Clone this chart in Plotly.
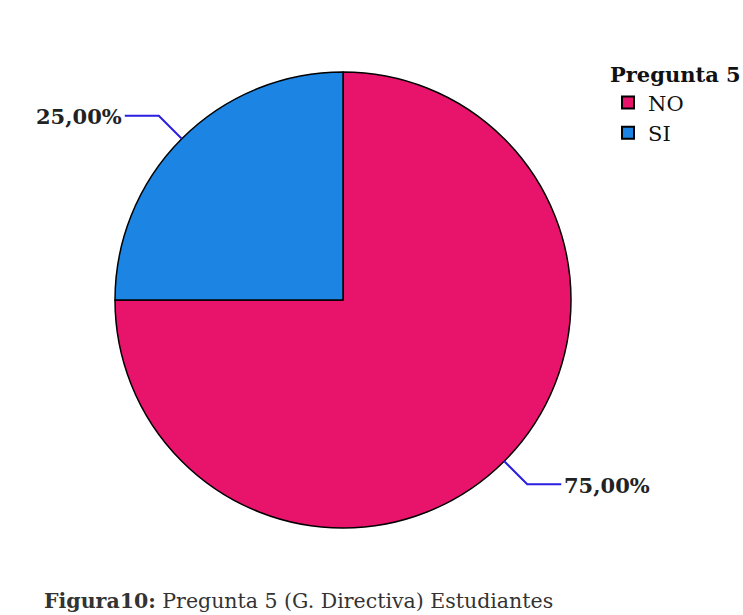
import math
import plotly.graph_objects as go

categories = ["NO", "SI"]
values = [75, 25]
colors = ["#e8146c", "#1c84e2"]
label_texts = ["75,00%", "25,00%"]

W, H = 743, 615
cx, cy, r = 343, 300, 228  # pixel layout of the pie

dom_x = [(cx - r) / W, (cx + r) / W]
dom_y = [1 - (cy + r) / H, 1 - (cy - r) / H]

FONT = "DejaVu Serif"

fig = go.Figure(go.Pie(
    labels=categories, values=values, sort=False, direction="clockwise", rotation=0,
    marker=dict(colors=colors, line=dict(color="black", width=1.5)),
    textinfo="none", hoverinfo="label+percent",
    domain=dict(x=dom_x, y=dom_y),
))

shapes = []
annotations = []
total = sum(values)
start = 0.0
for v, txt in zip(values, label_texts):
    mid = start + v / total * 360 / 2
    start += v / total * 360
    a = math.radians(mid)
    ex, ey = cx + r * math.sin(a), cy - r * math.cos(a)
    dx = 1 if math.sin(a) >= 0 else -1
    dy = 1 if -math.cos(a) >= 0 else -1
    kx, ky = ex + dx * 23, ey + dy * 23
    hx = kx + dx * 34
    path = f"M {ex/W} {1-ey/H} L {kx/W} {1-ky/H} L {hx/W} {1-ky/H}"
    shapes.append(dict(type="path", xref="paper", yref="paper", path=path,
                       line=dict(color="#2a1ee0", width=2)))
    annotations.append(dict(xref="paper", yref="paper", x=(hx + dx * 1) / W, y=1 - (ky + 1) / H,
                            text=f"<b>{txt}</b>", showarrow=False,
                            xanchor="left" if dx > 0 else "right", yanchor="middle",
                            font=dict(family=FONT, size=21, color="#222")))

annotations.append(dict(xref="paper", yref="paper", x=42 / W, y=1 - 601 / H,
                        text="<b>Figura10:</b> Pregunta 5 (G. Directiva) Estudiantes",
                        showarrow=False, xanchor="left", yanchor="middle",
                        font=dict(family=FONT, size=20.5, color="#333")))

fig.update_layout(
    width=W, height=H, margin=dict(l=0, r=0, t=0, b=0),
    paper_bgcolor="white", plot_bgcolor="white",
    showlegend=True,
    legend=dict(x=608 / W, y=1 - 55 / H, xanchor="left", yanchor="top",
                title=dict(text="<b>Pregunta 5</b>", font=dict(family=FONT, size=21, color="#111")),
                font=dict(family=FONT, size=21, color="#111"),
                itemsizing="constant", tracegroupgap=0, bgcolor="rgba(0,0,0,0)"),
    shapes=shapes, annotations=annotations,
)

fig.write_html("out.html", config={"displayModeBar": False},
               post_script="document.body.style.margin='0px';")
